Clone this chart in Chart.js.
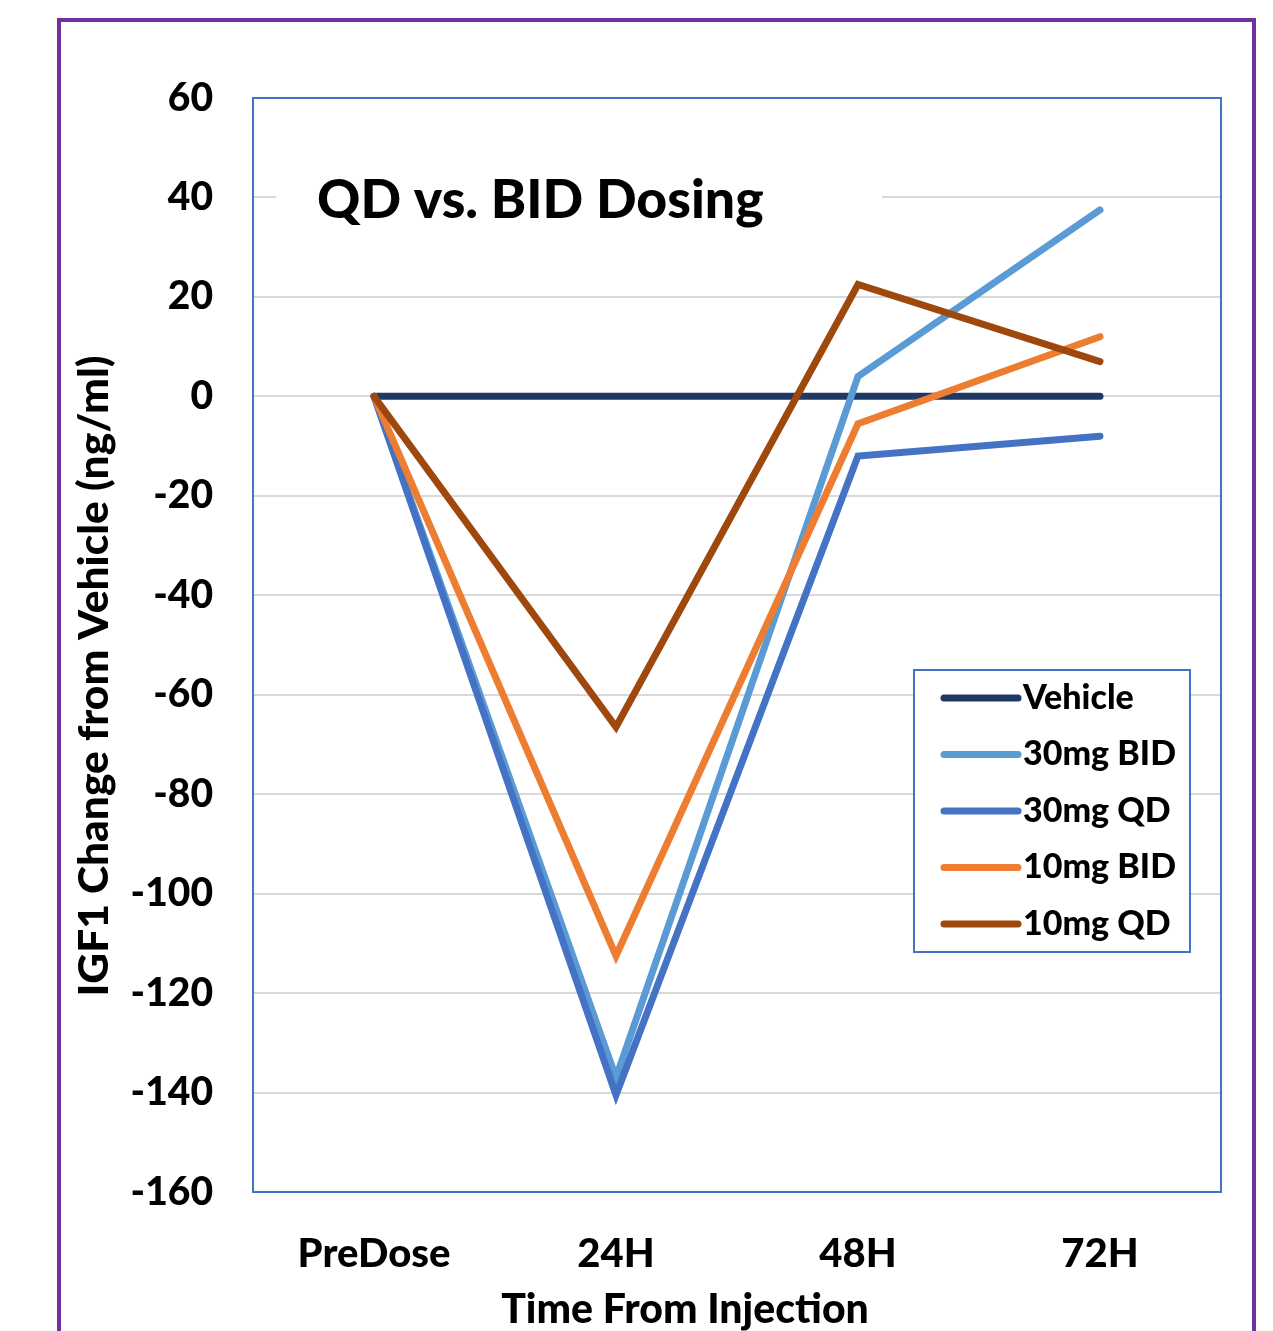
<!DOCTYPE html>
<html><head><meta charset="utf-8">
<script src="https://cdn.jsdelivr.net/npm/chart.js@4.4.0/dist/chart.umd.min.js"></script>
<style>html,body{margin:0;padding:0;background:#fff}canvas{display:block}</style>
</head><body>
<canvas id="c" width="1273" height="1331"></canvas>
<script>
// IGF1 change from vehicle over time, QD vs. BID dosing
const categories = ['PreDose', '24H', '48H', '72H'];
const seriesNames = ['Vehicle', '30mg BID', '30mg QD', '10mg BID', '10mg QD'];
const vehicle = [0, 0, 0, 0];
const bid30mg = [0, -137, 4, 37.5];
const qd30mg = [0, -140.5, -12, -8];
const bid10mg = [0, -112.5, -5.5, 12];
const qd10mg = [0, -66.5, 22.5, 7];
const seriesColors = ['#203864', '#5B9BD5', '#4472C4', '#ED7D31', '#9E480E'];
const yMin = -160, yMax = 60, yStep = 20;

const FONT = 'Lato, "Open Sans", sans-serif';
const WEIGHT = '900';
const seriesValues = [vehicle, bid30mg, qd30mg, bid10mg, qd10mg];

const datasets = seriesNames.map((name, i) => ({
  label: name,
  data: seriesValues[i],
  borderColor: seriesColors[i],
  backgroundColor: seriesColors[i],
  borderWidth: 7,
  borderCapStyle: 'round',
  borderJoinStyle: 'miter',
  pointRadius: 0,
  tension: 0,
  order: seriesNames.length - i
}));

const decorations = {
  id: 'decorations',
  beforeDraw(chart) {
    const ctx = chart.ctx;
    ctx.save();
    ctx.fillStyle = '#fff';
    ctx.fillRect(0, 0, chart.width, chart.height);
    ctx.strokeStyle = '#7030A0';
    ctx.lineWidth = 4;
    ctx.strokeRect(59, 20, 1195, 1400);
    ctx.restore();
  },
  beforeDatasetsDraw(chart) {
    const ctx = chart.ctx;
    const a = chart.chartArea;
    ctx.save();
    // title block inside the plot
    ctx.fillStyle = '#fff';
    ctx.fillRect(276, 160, 606, 80);
    ctx.fillStyle = '#000';
    ctx.font = WEIGHT + ' 53.5px ' + FONT;
    ctx.textBaseline = 'middle';
    ctx.textAlign = 'left';
    ctx.fillText('QD vs. BID Dosing', 317, 201);
    // plot border
    ctx.strokeStyle = '#4472C4';
    ctx.lineWidth = 2;
    ctx.strokeRect(a.left, a.top, a.right - a.left, a.bottom - a.top);
    // axis titles
    ctx.font = WEIGHT + ' 41px ' + FONT;
    ctx.textAlign = 'center';
    ctx.fillText('Time From Injection', 685, 1310);
    ctx.font = WEIGHT + ' 42.5px ' + FONT;
    ctx.translate(94, 676);
    ctx.rotate(-Math.PI / 2);
    ctx.fillText('IGF1 Change from Vehicle (ng/ml)', 0, 0);
    ctx.restore();
  },
  afterDatasetsDraw(chart) {
    const ctx = chart.ctx;
    ctx.save();
    const bx = 914, by = 670, bw = 276, bh = 282;
    ctx.fillStyle = '#fff';
    ctx.fillRect(bx, by, bw, bh);
    ctx.strokeStyle = '#4472C4';
    ctx.lineWidth = 2;
    ctx.strokeRect(bx, by, bw, bh);
    ctx.font = WEIGHT + ' 34px ' + FONT;
    ctx.textBaseline = 'middle';
    ctx.textAlign = 'left';
    chart.data.datasets.forEach((ds, i) => {
      const y = 698 + i * 56.5;
      ctx.strokeStyle = ds.borderColor;
      ctx.lineWidth = 7;
      ctx.lineCap = 'round';
      ctx.beginPath();
      ctx.moveTo(944, y);
      ctx.lineTo(1018, y);
      ctx.stroke();
      ctx.fillStyle = '#000';
      ctx.fillText(ds.label, 1023, y);
    });
    ctx.restore();
  }
};

new Chart(document.getElementById('c'), {
  type: 'line',
  data: { labels: categories, datasets },
  options: {
    responsive: false,
    animation: false,
    layout: { padding: { top: 98, right: 52, left: 0, bottom: 0 } },
    plugins: { legend: { display: false }, tooltip: { enabled: false }, title: { display: false } },
    scales: {
      x: {
        type: 'category',
        offset: true,
        grid: { display: false, drawTicks: false },
        border: { display: false },
        ticks: { color: '#000', font: { family: FONT, size: 40, weight: WEIGHT }, padding: 38, maxRotation: 0 },
        afterFit(s) { s.height = 139; }
      },
      y: {
        min: yMin, max: yMax,
        grid: { color: '#D9D9D9', lineWidth: 2, drawTicks: false },
        border: { display: false },
        ticks: { stepSize: yStep, color: '#000', font: { family: FONT, size: 39, weight: WEIGHT }, padding: 40 },
        afterFit(s) { s.width = 253; }
      }
    }
  },
  plugins: [decorations]
});
</script></body></html>
